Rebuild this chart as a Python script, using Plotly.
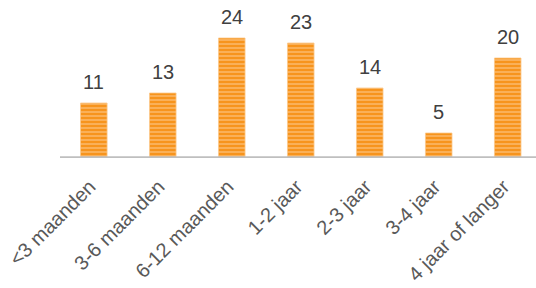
import plotly.graph_objects as go

categories = ["<3 maanden", "3-6 maanden", "6-12 maanden", "1-2 jaar", "2-3 jaar", "3-4 jaar", "4 jaar of langer"]
values = [11, 13, 24, 23, 14, 5, 20]

fig = go.Figure()
fig.add_trace(go.Bar(
    x=categories,
    y=values,
    width=0.385,
    marker=dict(
        color="#F7941D",
        line=dict(color="#FBC88A", width=0.8),
        pattern=dict(shape="-", fgcolor="#FDD3A0", bgcolor="#F7941D", size=4, solidity=0.45),
    ),
    hoverinfo="skip",
))

for c, v in zip(categories, values):
    fig.add_annotation(
        x=c, y=v, text=str(v), showarrow=False, yanchor="bottom", yshift=9,
        borderpad=0,
        font=dict(family="Liberation Sans, Arial", size=20, color="#404040"),
    )

fig.add_shape(type="line", xref="paper", yref="y", x0=0, x1=1, y0=0, y1=0,
              line=dict(color="#BFBFBF", width=3.5), layer="above")

fig.update_layout(
    width=536, height=288,
    margin=dict(l=60, r=0, t=18, b=130),
    paper_bgcolor="white", plot_bgcolor="white",
    showlegend=False,
    xaxis=dict(
        range=[-0.49, 6.41], showgrid=False, zeroline=False, showline=False,
        tickangle=-45, ticks="", automargin=False, ticklabelstandoff=12,
        ticklabelshift=-4,
        tickfont=dict(family="Liberation Sans, Arial", size=20, color="#595959"),
    ),
    yaxis=dict(range=[0, 28], visible=False, showgrid=False, zeroline=False, automargin=False),
)

# remove the browser's default 8px body margin so the figure fills the window
fig.write_html("out.html", config={"displayModeBar": False},
               post_script="document.body.style.margin='0';")
